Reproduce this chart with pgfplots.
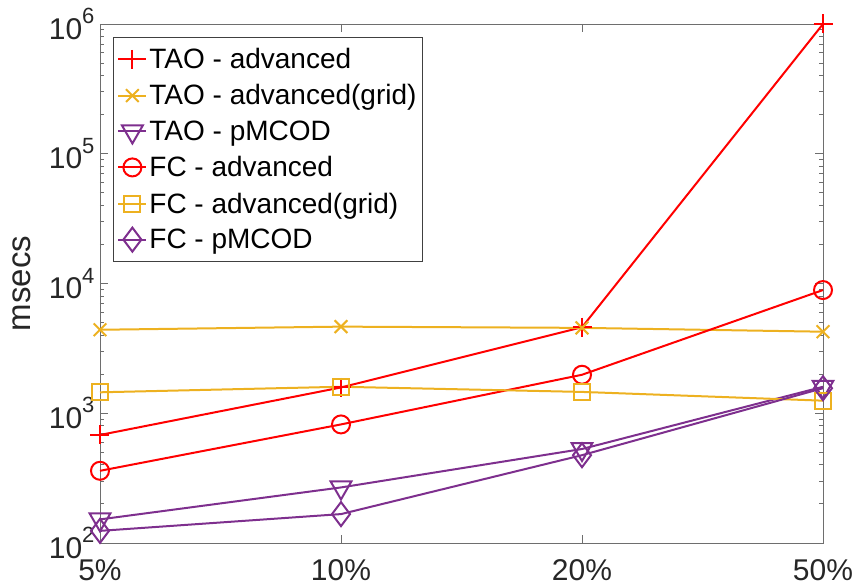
\documentclass[border=0pt]{standalone}
\usepackage{fontspec}
\setmainfont{Liberation Sans}
\usepackage{pgfplots}
\pgfplotsset{compat=1.18}

\definecolor{mred}{rgb}{1,0,0}
\definecolor{morange}{rgb}{0.929,0.694,0.125}
\definecolor{mpurple}{rgb}{0.494,0.184,0.556}
\definecolor{axgray}{RGB}{110,110,110}
\definecolor{txtgray}{RGB}{38,38,38}

% power-of-ten tick label: base digits with a raised, smaller exponent
\newcommand\tenpow[1]{10\raisebox{0.52em}{\fontsize{22}{26}\selectfont #1}}

\begin{document}
\begin{tikzpicture}
\begin{axis}[
  scale only axis,
  width=723pt, height=519pt,
  ymode=log, ymin=100, ymax=1000000,
  xmin=0, xmax=3,
  xtick={0,1,2,3},
  xticklabels={5\%,10\%,20\%,50\%},
  ytick={100,1000,10000,100000,1000000},
  yticklabels={\tenpow{2},\tenpow{3},\tenpow{4},\tenpow{5},\tenpow{6}},
  minor ytick={200,300,400,500,600,700,800,900,
               2000,3000,4000,5000,6000,7000,8000,9000,
               20000,30000,40000,50000,60000,70000,80000,90000,
               200000,300000,400000,500000,600000,700000,800000,900000},
  xticklabel style={font=\fontsize{30}{36}\selectfont, text=txtgray, yshift=-13pt},
  yticklabel style={font=\fontsize{30}{36}\selectfont, text=txtgray, xshift=-2pt},
  ylabel={msecs},
  ylabel style={font=\fontsize{33}{40}\selectfont, text=txtgray,
                at={(axis description cs:-0.108,0.5)}, anchor=center},
  axis line style={draw=axgray, line width=0.9pt},
  tick style={draw=axgray, line width=0.9pt},
  tick align=inside,
  major tick length=8pt, minor tick length=4pt,
  clip=false,
  legend cell align=left,
  legend style={at={(axis description cs:0,1)}, anchor=north west,
                xshift=13pt, yshift=-13pt,
                font=\fontsize{28}{34}\selectfont,
                draw=black!75, line width=0.8pt, fill=white,
                inner xsep=4pt, inner ysep=9pt, row sep=10.5pt},
  legend image code/.code={%
    \draw[mark repeat=2, mark phase=2]
      plot coordinates {(0pt,0pt) (14pt,0pt) (28pt,0pt)};},
  every axis plot/.append style={line width=2pt},
]
% TAO - advanced
\addplot[color=mred, mark=+, mark size=9.5pt]
  coordinates {(0,680) (1,1580) (2,4600) (3,1000000)};
% TAO - advanced(grid)
\addplot[color=morange, mark=x, mark size=9pt]
  coordinates {(0,4400) (1,4650) (2,4550) (3,4250)};
% TAO - pMCOD
\addplot[color=mpurple, mark=triangle, mark size=12pt, mark options={rotate=180}]
  coordinates {(0,152) (1,268) (2,530) (3,1600)};
% FC - advanced
\addplot[color=mred, mark=o, mark size=9pt]
  coordinates {(0,360) (1,820) (2,1980) (3,8900)};
% FC - advanced(grid)
\addplot[color=morange, mark=square, mark size=8pt]
  coordinates {(0,1450) (1,1600) (2,1460) (3,1250)};
% FC - pMCOD
\addplot[color=mpurple, mark=diamond, mark size=12pt]
  coordinates {(0,124) (1,167) (2,475) (3,1560)};
\legend{TAO - advanced, TAO - advanced(grid), TAO - pMCOD,
        FC - advanced, FC - advanced(grid), FC - pMCOD}
\end{axis}
\pgfresetboundingbox
\path ([xshift=-100pt,yshift=-44pt]current axis.south west)
  rectangle ([xshift=33pt,yshift=24pt]current axis.north east);
\end{tikzpicture}
\end{document}
